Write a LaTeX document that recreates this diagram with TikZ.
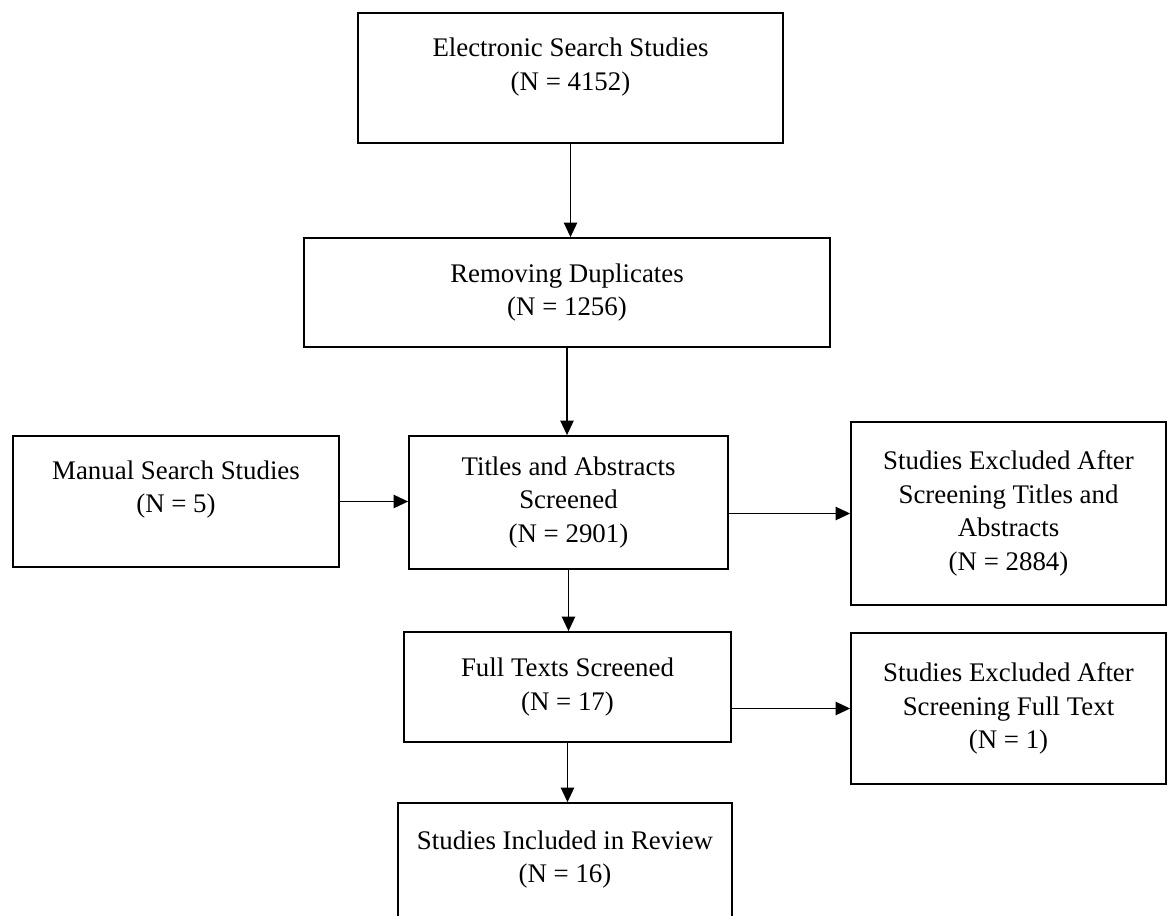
\documentclass[tikz,border=0pt]{standalone}
\usepackage{fontspec}
\setmainfont{Liberation Serif}
\usetikzlibrary{arrows.meta}

\begin{document}
\begin{tikzpicture}[x=0.0157cm, y=-0.0157cm,
	box/.style 2 args={draw, line width=0.8pt, align=center, inner sep=2pt,
		minimum width=#1*0.0157cm, minimum height=#2*0.0157cm,
		font=\fontsize{12}{15}\selectfont},
	arr/.style={-{Triangle[length=6.5pt,width=6pt]}, line width=0.55pt}]
	\useasboundingbox (0,0) rectangle (1168,915);
	\node [box={425}{130}, text depth=12.4pt] (elec) at (570.5,78) {Electronic Search Studies\\(N = 4152)};
	\node [box={526}{109}] (remov)  at (567,292.5)   {Removing Duplicates\\(N = 1256)};
	\node [box={326}{131}, text depth=13.4pt] (manual) at (176,501.5) {Manual Search Studies\\(N = 5)};
	\node [box={319}{133}] (titles) at (568.5,502.5) {Titles and Abstracts\\Screened\\(N = 2901)};
	\node [box={315}{183}] (excl1)  at (1008.5,513.5) {Studies Excluded After\\Screening Titles and\\Abstracts\\(N = 2884)};
	\node [box={327}{110}] (full)   at (567.5,687)   {Full Texts Screened\\(N = 17)};
	\node [box={315}{151}] (excl2)  at (1008.5,708.5) {Studies Excluded After\\Screening Full Text\\(N = 1)};
	\node [box={334}{127}, text depth=8.8pt] (incl) at (565,866.5) {Studies Included in Review\\(N = 16)};
	% connectors
	\draw [arr] (elec.south) -- (elec.south |- remov.north);
	\draw [arr] (remov.south) -- (remov.south |- titles.north);
	\draw [arr] (manual.east) -- (manual.east -| titles.west);
	\draw [arr] (titles.east |- excl1.west) -- (excl1.west);
	\draw [arr] (titles.south) -- (titles.south |- full.north);
	\draw [arr] (full.east |- excl2.west) -- (excl2.west);
	\draw [arr] (full.south) -- (full.south |- incl.north);
\end{tikzpicture}
\end{document}
